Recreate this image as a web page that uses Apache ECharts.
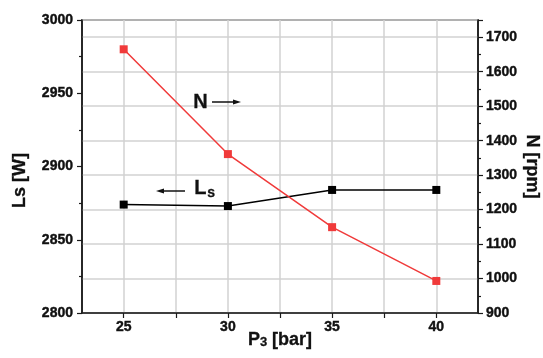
<!DOCTYPE html>
<html>
<head>
<meta charset="utf-8">
<script src="https://cdn.jsdelivr.net/npm/echarts@6/dist/echarts.min.js"></script>
<style>
  html, body { margin: 0; padding: 0; background: #fff; }
  #chart { width: 543px; height: 358px; }
</style>
</head>
<body>
<div id="chart"></div>
<script>
const pressure = [25, 30, 35, 40];
const lsValues = [2874, 2873, 2884, 2884];
const nValues = [1665, 1361, 1149, 993];
const xLabelTicks = [25, 30, 35, 40];
const xGridTicks = [25, 27.5, 30, 32.5, 35, 37.5, 40];

const font = 'Liberation Sans, Arial, sans-serif';
const axisColor = '#1a1a1a';
const gridColor = '#d2d2d2';
const red = '#f03a3a';

const chart = echarts.init(document.getElementById('chart'), null, { renderer: 'canvas' });

// bold, slightly heavier numbers like the original plot
const labelStyle = {
  color: '#111',
  fontFamily: font,
  fontWeight: 'bold',
  fontSize: 14,
  textBorderColor: '#111',
  textBorderWidth: 0.4,
  formatter: v => String(v),
};
const nameStyle = {
  color: '#111',
  fontFamily: font,
  fontWeight: 'bold',
  fontSize: 18,
  textBorderColor: '#111',
  textBorderWidth: 0.3,
};

const option = {
  animation: false,
  grid: {
    left: 82,
    right: 65,
    top: 20,
    bottom: 45,
    outerBoundsMode: 'none',
    containLabel: false,
    show: true,
    borderColor: axisColor,
    borderWidth: 1.5,
  },
  xAxis: {
    type: 'value',
    min: 23,
    max: 42,
    name: 'P{s|3} [bar]',
    nameLocation: 'middle',
    nameGap: 18,
    nameMoveOverlap: false,
    nameTextStyle: {
      ...nameStyle,
      rich: {
        s: {
          fontFamily: font, fontWeight: 'bold', fontSize: 13, color: '#111',
          textBorderColor: '#111', textBorderWidth: 0.3, verticalAlign: 'bottom',
        },
      },
    },
    axisLine: { lineStyle: { color: axisColor, width: 1.5 } },
    axisTick: { length: 5, customValues: xGridTicks, lineStyle: { color: axisColor, width: 1.2 } },
    axisLabel: { ...labelStyle, margin: 7, customValues: xLabelTicks },
    splitLine: { show: true, lineStyle: { color: gridColor, width: 1.5 } },
  },
  yAxis: [
    {
      type: 'value',
      min: 2800,
      max: 3000,
      interval: 50,
      name: 'Ls [W]',
      nameLocation: 'middle',
      nameRotate: 90,
      nameGap: 53,
      nameMoveOverlap: false,
      nameTextStyle: { ...nameStyle, padding: [0, 28, 0, 0] },
      axisLine: { show: true, lineStyle: { color: axisColor, width: 1.5 } },
      axisTick: { show: true, length: 5, lineStyle: { color: axisColor, width: 1.2 } },
      minorTick: { show: true, splitNumber: 2, length: 3, lineStyle: { color: axisColor, width: 1.2 } },
      axisLabel: { ...labelStyle, margin: 9 },
      splitLine: { show: false },
    },
    {
      type: 'value',
      min: 900,
      max: 1750,
      interval: 100,
      position: 'right',
      name: 'N [rpm]',
      nameLocation: 'middle',
      nameRotate: -90,
      nameGap: 45,
      nameMoveOverlap: false,
      nameTextStyle: nameStyle,
      axisLine: { show: true, lineStyle: { color: axisColor, width: 1.5 } },
      axisTick: { show: true, length: 5, lineStyle: { color: axisColor, width: 1.2 } },
      minorTick: { show: true, splitNumber: 2, length: 3, lineStyle: { color: axisColor, width: 1.2 } },
      axisLabel: { ...labelStyle, margin: 8, showMaxLabel: false },
      splitLine: { show: true, lineStyle: { color: gridColor, width: 1.5 } },
    },
  ],
  series: [
    {
      name: 'Ls',
      type: 'line',
      yAxisIndex: 0,
      data: pressure.map((p, i) => [p, lsValues[i]]),
      symbol: 'rect',
      symbolSize: 8,
      lineStyle: { color: '#000', width: 1.5 },
      itemStyle: { color: '#000' },
      z: 3,
    },
    {
      name: 'N',
      type: 'line',
      yAxisIndex: 1,
      data: pressure.map((p, i) => [p, nValues[i]]),
      symbol: 'rect',
      symbolSize: 8,
      lineStyle: { color: red, width: 1.5 },
      itemStyle: { color: red },
      z: 4,
    },
  ],
  graphic: [
    // N ->
    {
      type: 'text',
      left: 193,
      top: 92,
      z: 100,
      style: { text: 'N', fontFamily: font, fontWeight: 'bold', fontSize: 20, fill: '#111', stroke: '#111', lineWidth: 0.3 },
    },
    {
      type: 'line',
      z: 100,
      shape: { x1: 212, y1: 102, x2: 235, y2: 102 },
      style: { stroke: '#111', lineWidth: 1.5 },
    },
    {
      type: 'polygon',
      z: 100,
      shape: { points: [[241, 102], [233, 99.5], [233, 104.5]] },
      style: { fill: '#111' },
    },
    // <- Ls
    {
      type: 'line',
      z: 100,
      shape: { x1: 162, y1: 191, x2: 185, y2: 191 },
      style: { stroke: '#111', lineWidth: 1.5 },
    },
    {
      type: 'polygon',
      z: 100,
      shape: { points: [[156, 191], [164, 188.5], [164, 193.5]] },
      style: { fill: '#111' },
    },
    {
      type: 'text',
      left: 194,
      top: 178,
      z: 100,
      style: { text: 'L', fontFamily: font, fontWeight: 'bold', fontSize: 20, fill: '#111', stroke: '#111', lineWidth: 0.3 },
    },
    {
      type: 'text',
      left: 207,
      top: 186,
      z: 100,
      style: { text: 's', fontFamily: font, fontWeight: 'bold', fontSize: 14, fill: '#111', stroke: '#111', lineWidth: 0.3 },
    },
  ],
};

chart.setOption(option);
</script>
</body>
</html>
